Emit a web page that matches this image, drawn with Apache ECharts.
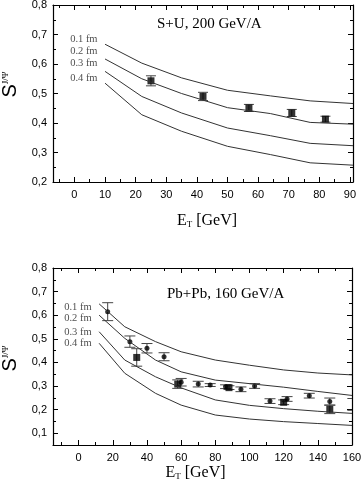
<!DOCTYPE html>
<html>
<head>
<meta charset="utf-8">
<script src="https://cdn.jsdelivr.net/npm/echarts@6/dist/echarts.min.js"></script>
<style>
  html, body { margin: 0; padding: 0; background: #fff; }
  #chart { width: 362px; height: 491px; }
</style>
</head>
<body>
<div id="chart"></div>
<script>
// ---- data ----
const fmLabels = ['0.1 fm', '0.2 fm', '0.3 fm', '0.4 fm'];

// S+U, 200 GeV/A : model curves
const suEt = [10, 22, 35, 50, 64, 77, 91];
const su01 = [0.667, 0.603, 0.553, 0.511, 0.492, 0.475, 0.466];
const su02 = [0.617, 0.550, 0.500, 0.452, 0.432, 0.402, 0.396];
const su03 = [0.575, 0.490, 0.434, 0.383, 0.357, 0.331, 0.323];
const su04 = [0.535, 0.428, 0.372, 0.321, 0.293, 0.265, 0.257];
// S+U data (squares)
const suSqX = [25, 42, 57, 71, 82];
const suSqY = [0.543, 0.490, 0.451, 0.434, 0.413];
const suSqErr = [0.017, 0.014, 0.012, 0.012, 0.010];

// Pb+Pb, 160 GeV/A : model curves
const pbEt = [12, 27, 45, 60, 80, 100, 120, 140, 160];
const pb01 = [0.648, 0.551, 0.488, 0.445, 0.410, 0.388, 0.368, 0.355, 0.347];
const pb02 = [0.600, 0.502, 0.410, 0.360, 0.325, 0.310, 0.295, 0.277, 0.260];
const pb03 = [0.530, 0.410, 0.339, 0.292, 0.241, 0.218, 0.204, 0.193, 0.184];
const pb04 = [0.481, 0.354, 0.269, 0.219, 0.177, 0.160, 0.149, 0.141, 0.133];
// Pb+Pb data (dots)
const pbDotX = [17, 30, 40, 50, 60, 70, 77, 86, 95, 103, 112, 122, 135, 147, 160.5];
const pbDotY = [0.615, 0.488, 0.460, 0.424, 0.316, 0.308, 0.304, 0.297, 0.286, 0.300, 0.236, 0.245, 0.259, 0.234, 0.222];
const pbDotErr = [0.038, 0.024, 0.020, 0.017, 0.016, 0.012, 0.006, 0.008, 0.010, 0.010, 0.010, 0.010, 0.010, 0.015, 0.025];
// Pb+Pb data (squares)
const pbSqX = [34, 58, 88, 120, 147];
const pbSqY = [0.421, 0.308, 0.293, 0.231, 0.201];
const pbSqErr = [0.037, 0.018, 0.008, 0.010, 0.018];

// tick values
const suXMajor = [0, 10, 20, 30, 40, 50, 60, 70, 80, 90];
const suXMinor = [-5, 5, 15, 25, 35, 45, 55, 65, 75, 85];
const suYMajor = [0.2, 0.3, 0.4, 0.5, 0.6, 0.7, 0.8];
const suYMinor = [0.25, 0.35, 0.45, 0.55, 0.65, 0.75];
const pbXMajor = [0, 20, 40, 60, 80, 100, 120, 140, 160];
const pbXMinor = [-10, 10, 30, 50, 70, 90, 110, 130, 150];
const pbYMajor = [0.1, 0.2, 0.3, 0.4, 0.5, 0.6, 0.7, 0.8];
const pbYMinor = [0.15, 0.25, 0.35, 0.45, 0.55, 0.65, 0.75];

const SANS = 'Liberation Sans';
const SERIF = 'Liberation Serif';

const zip = (xs, ys) => xs.map((x, i) => [x, ys[i]]);
const zip3 = (xs, ys, es) => xs.map((x, i) => [x, ys[i], es[i]]);

// 4 x-axes and 4 y-axes per grid: major/minor ticks, mirrored on all sides
// o: name placement tweaks
function makeAxes(g, xr, yr, xMaj, xMin, yMaj, yMin, o) {
  const line = { onZero: false, lineStyle: { color: '#000', width: 1.2 } };
  const tick = (vals, len) => ({ inside: true, length: len, customValues: vals, lineStyle: { color: '#000', width: 1 } });
  const base = (mn, mx) => ({ type: 'value', gridIndex: g, min: mn, max: mx, splitLine: { show: false } });
  const xs = [
    Object.assign(base(xr[0], xr[1]), {
      position: 'bottom', axisLine: line, axisTick: tick(xMaj, 5),
      axisLabel: { customValues: xMaj, margin: 7, fontSize: 11, color: '#000', fontFamily: SANS },
      name: '{e|E}{t|T}{g| [GeV]}', nameLocation: 'middle', nameGap: o.xGap,
      nameTextStyle: {
        rich: {
          e: { fontFamily: SERIF, fontSize: 16, color: '#000', padding: [0, 0, 0, o.xPadL] },
          t: { fontFamily: SERIF, fontSize: 9, color: '#000', verticalAlign: 'bottom' },
          g: { fontFamily: SERIF, fontSize: 16, color: '#000', padding: [0, o.xPadR, 0, 0] }
        }
      }
    }),
    Object.assign(base(xr[0], xr[1]), { position: 'bottom', axisLine: { show: false, onZero: false }, axisTick: tick(xMin, 3), axisLabel: { show: false } }),
    Object.assign(base(xr[0], xr[1]), { position: 'top', axisLine: line, axisTick: tick(xMaj, 5), axisLabel: { show: false } }),
    Object.assign(base(xr[0], xr[1]), { position: 'top', axisLine: { show: false, onZero: false }, axisTick: tick(xMin, 3), axisLabel: { show: false } })
  ];
  const ys = [
    Object.assign(base(yr[0], yr[1]), {
      position: 'left', axisLine: line, axisTick: tick(yMaj, 5),
      axisLabel: {
        customValues: yMaj, margin: 6, fontSize: 11, color: '#000', fontFamily: SANS,
        formatter: v => v.toFixed(1).replace('.', ',')
      },
      name: '{s|S}{p|J/Ψ}', nameLocation: 'middle', nameGap: 26, nameRotate: 90,
      nameTextStyle: {
        rich: {
          s: { fontFamily: SANS, fontSize: 20, color: '#000', padding: [0, 0, 0, o.yPadS] },
          p: { fontFamily: SERIF, fontSize: 9, color: '#000', verticalAlign: 'top', padding: [0, o.yPadP, 0, 0] }
        }
      }
    }),
    Object.assign(base(yr[0], yr[1]), { position: 'left', axisLine: { show: false, onZero: false }, axisTick: tick(yMin, 3), axisLabel: { show: false } }),
    Object.assign(base(yr[0], yr[1]), { position: 'right', axisLine: line, axisTick: tick(yMaj, 5), axisLabel: { show: false } }),
    Object.assign(base(yr[0], yr[1]), { position: 'right', axisLine: { show: false, onZero: false }, axisTick: tick(yMin, 3), axisLabel: { show: false } })
  ];
  return { xs, ys };
}

const axTop = makeAxes(0, [-7, 91], [0.2, 0.8], suXMajor, suXMinor, suYMajor, suYMinor,
  { xGap: 31, xPadL: 8, xPadR: 0, yPadS: 18, yPadP: 0 });
const axBot = makeAxes(1, [-15, 160], [0.05, 0.8], pbXMajor, pbXMinor, pbYMajor, pbYMinor,
  { xGap: 20, xPadL: 0, xPadR: 14, yPadS: 0, yPadP: 4 });

function errRender(capHalf) {
  return function (params, api) {
    const x = api.value(0), y = api.value(1), e = api.value(2);
    const p1 = api.coord([x, y + e]);
    const p2 = api.coord([x, y - e]);
    const st = { stroke: '#444', lineWidth: 1 };
    return {
      type: 'group',
      children: [
        { type: 'line', shape: { x1: p1[0], y1: p1[1], x2: p2[0], y2: p2[1] }, style: st },
        { type: 'line', shape: { x1: p1[0] - capHalf, y1: p1[1], x2: p1[0] + capHalf, y2: p1[1] }, style: st },
        { type: 'line', shape: { x1: p2[0] - capHalf, y1: p2[1], x2: p2[0] + capHalf, y2: p2[1] }, style: st }
      ]
    };
  };
}

function curves(ai, xs, lists) {
  return lists.map(ys => ({
    type: 'line', xAxisIndex: ai, yAxisIndex: ai, data: zip(xs, ys),
    showSymbol: false, silent: true, lineStyle: { color: '#333', width: 1 }
  }));
}

// "0.x fm" labels just left of where each curve starts
function curveLabels(ai, xs, lists, dy) {
  return {
    type: 'scatter', xAxisIndex: ai, yAxisIndex: ai, symbolSize: 1, silent: true,
    itemStyle: { color: 'rgba(0,0,0,0)' },
    label: {
      show: true, position: 'left', distance: 4,
      fontFamily: SERIF, fontSize: 10.5, color: '#222',
      formatter: p => fmLabels[p.dataIndex]
    },
    data: lists.map((ys, i) => ({ value: [xs[0], ys[0]], label: { offset: [-3, dy[i]] } }))
  };
}

const chart = echarts.init(document.getElementById('chart'), null, { renderer: 'canvas' });
chart.setOption({
  animation: false,
  backgroundColor: '#fff',
  title: [
    { text: 'S+U, 200 GeV/A', left: 152, top: 12, textStyle: { fontFamily: SERIF, fontSize: 15, fontWeight: 'normal', color: '#000' } },
    { text: 'Pb+Pb, 160 GeV/A', left: 162, top: 282, textStyle: { fontFamily: SERIF, fontSize: 15, fontWeight: 'normal', color: '#000' } }
  ],
  grid: [
    { left: 53, top: 5, width: 300, height: 177, outerBoundsMode: 'none' },
    { left: 53, top: 268, width: 299, height: 177, outerBoundsMode: 'none' }
  ],
  xAxis: axTop.xs.concat(axBot.xs),
  yAxis: axTop.ys.concat(axBot.ys),
  series: [
    ...curves(0, suEt, [su01, su02, su03, su04]),
    curveLabels(0, suEt, [su01, su02, su03, su04], [-5, -8, -8, -5]),
    {
      type: 'custom', xAxisIndex: 0, yAxisIndex: 0, clip: true,
      renderItem: errRender(5), encode: { x: 0, y: 1 },
      data: zip3(suSqX, suSqY, suSqErr)
    },
    {
      type: 'scatter', xAxisIndex: 0, yAxisIndex: 0, symbol: 'rect', symbolSize: 7,
      itemStyle: { color: '#000' }, data: zip(suSqX, suSqY)
    },
    ...curves(4, pbEt, [pb01, pb02, pb03, pb04]),
    curveLabels(4, pbEt, [pb01, pb02, pb03, pb04], [3, 3, 1, 0]),
    {
      type: 'custom', xAxisIndex: 4, yAxisIndex: 4, clip: true,
      renderItem: errRender(5.5), encode: { x: 0, y: 1 },
      data: zip3(pbDotX, pbDotY, pbDotErr)
    },
    {
      type: 'custom', xAxisIndex: 4, yAxisIndex: 4, clip: true,
      renderItem: errRender(5.5), encode: { x: 0, y: 1 },
      data: zip3(pbSqX, pbSqY, pbSqErr)
    },
    {
      type: 'scatter', xAxisIndex: 4, yAxisIndex: 4, symbol: 'circle', symbolSize: 5, clip: true,
      itemStyle: { color: '#000' }, data: zip(pbDotX, pbDotY)
    },
    {
      type: 'scatter', xAxisIndex: 4, yAxisIndex: 4, symbol: 'rect', symbolSize: 7,
      itemStyle: { color: '#000' }, data: zip(pbSqX, pbSqY)
    }
  ]
});
</script>
</body>
</html>
